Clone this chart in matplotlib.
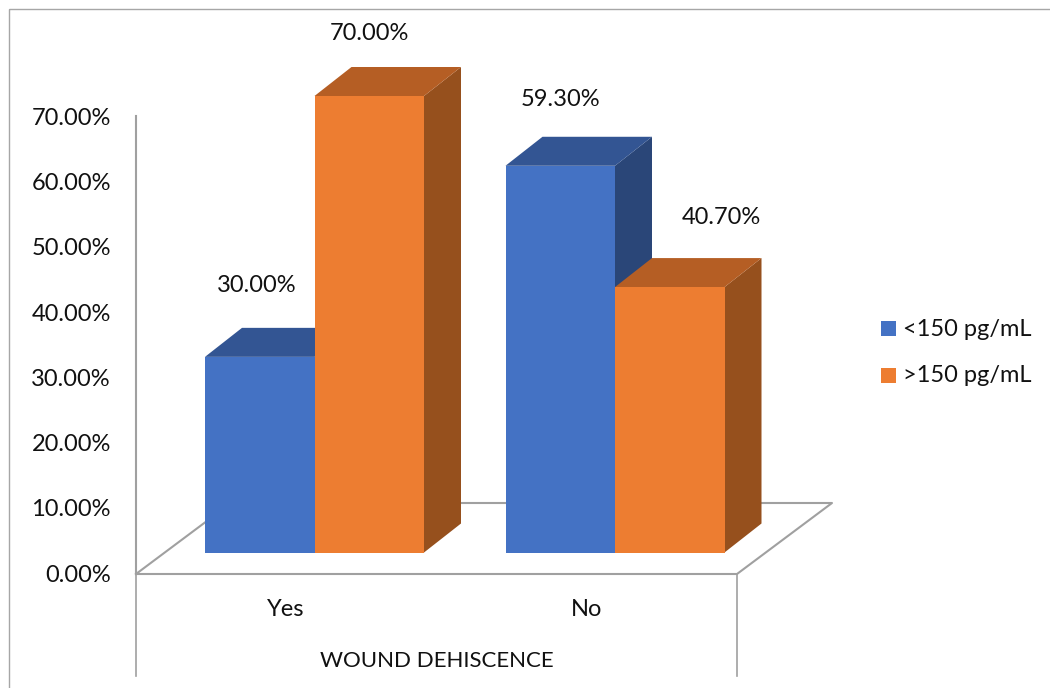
import matplotlib
matplotlib.use("Agg")
import matplotlib.pyplot as plt
from matplotlib.patches import Polygon, Rectangle

categories = ["Yes", "No"]
series_names = ["<150 pg/mL", ">150 pg/mL"]
low_values = [30.0, 59.3]
high_values = [70.0, 40.7]
y_ticks = [0, 10, 20, 30, 40, 50, 60, 70]

BLUE = ("#4472C4", "#335593", "#2A4678")
ORANGE = ("#ED7D31", "#B55E24", "#96501D")
INK = "#111111"
FS = 17

plt.rcParams["font.family"] = ["Lato", "DejaVu Sans"]

fig = plt.figure(figsize=(10.5, 6.88), dpi=100)
ax = fig.add_axes([0, 0, 1, 1])
ax.set_xlim(0, 1050)
ax.set_ylim(688, 0)
ax.axis("off")

# pixel scale of the value axis
y_zero = 574
per_unit = (574 - 117.5) / 70
base = 552.5  # front base of the bars
dx, dy = 37, 29
bar_w = 109.5
group_left = [205, 505.5]


def bar3d(x, value, shades):
    top = base - value * per_unit
    front, lid, side = shades
    ax.add_patch(Polygon([(x + bar_w, top), (x + bar_w + dx, top - dy),
                          (x + bar_w + dx, base - dy), (x + bar_w, base)],
                         fc=side, ec="none", zorder=3))
    ax.add_patch(Polygon([(x, top), (x + dx, top - dy), (x + bar_w + dx, top - dy),
                          (x + bar_w, top)], fc=lid, ec="none", zorder=3))
    ax.add_patch(Rectangle((x, top), bar_w, base - top, fc=front, ec="none", zorder=3))
    return top


# outer frame
ax.add_patch(Rectangle((8.5, 8.5), 1100, 800, fc="none", ec="#A6A6A6", lw=1, zorder=1))

# floor and axes
grey = "#A0A0A0"
ax.plot([136, 136], [116, 574], color=grey, lw=1.5, zorder=1)
ax.plot([136, 231, 832, 737, 136], [574, 503, 503, 574, 574], color=grey, lw=1.5, zorder=1)
ax.plot([136, 136], [574, 676], color=grey, lw=1.2, zorder=1)
ax.plot([737, 737], [574, 676], color=grey, lw=1.2, zorder=1)

label_y_low = [286, 99]
label_y_high = [34, 217]
label_x_low = [257, 560]
label_x_high = [369, 721]
cat_x = [286, 587]

for i, (x, lo, hi, cat) in enumerate(zip(group_left, low_values, high_values, categories)):
    bar3d(x, lo, BLUE)
    bar3d(x + bar_w, hi, ORANGE)
    ax.text(label_x_low[i], label_y_low[i], f"{lo:.2f}%", fontsize=FS, ha="center", va="center", color=INK, zorder=5)
    ax.text(label_x_high[i], label_y_high[i], f"{hi:.2f}%", fontsize=FS, ha="center", va="center", color=INK, zorder=5)
    ax.text(cat_x[i], 610, cat, fontsize=FS, ha="center", va="center", color=INK)

for t in y_ticks:
    ax.text(111, y_zero - t * per_unit + 1, f"{t:.2f}%", fontsize=FS, ha="right", va="center", color=INK)

ax.text(436.5, 661, "WOUND DEHISCENCE", fontsize=16, ha="center", va="center", color=INK)

# legend
for yy, name, shades in zip([328, 375], series_names, [BLUE, ORANGE]):
    ax.add_patch(Rectangle((881, yy - 7.5), 15, 15, fc=shades[0], ec="none"))
    ax.text(903, yy + 1, name, fontsize=FS, ha="left", va="center", color=INK)

fig.savefig("out.png", dpi=100)
